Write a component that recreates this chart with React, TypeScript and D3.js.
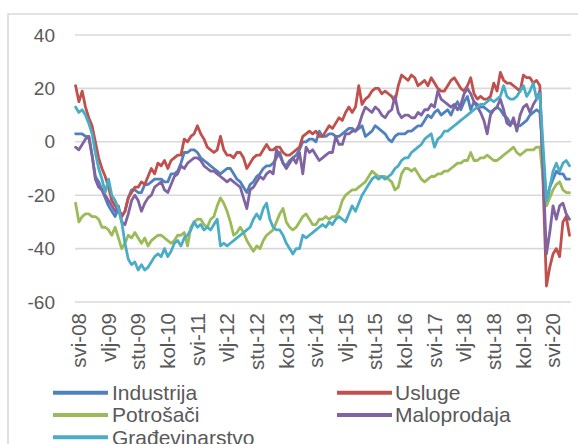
import React from "react";
import * as d3 from "d3";

const W = 578;
const H = 444;

// monthly, May 2008 .. Nov 2020
const startYear = 2008;
const startMonth = 4; // 0-based, May
const monthAbbr = ["sij", "vlj", "ožu", "tra", "svi", "lip", "srp", "kol", "ruj", "lis", "stu", "pro"];

const industrija = [
  3, 3, 3, 2, 2, -5, -13, -15, -18, -21, -24, -26, -28, -25, -28, -26, -21, -18, -18, -19,
  -19, -16, -16, -15, -14, -14, -14, -15, -15, -12, -12, -11, -8, -4, -4, -3, -3, -4, -6, -7,
  -8, -9, -10, -11, -12, -11, -10, -10, -12, -14, -15, -17, -19, -16, -15, -13, -12, -10, -9, -9,
  -8, -6, -4, -8, -9, -7, -6, -5, -3, 0, 0, 1, 1, 0, 4, 2, 2, 3, 3, 2,
  2, 3, 4, 5, 5, 4, 5, 6, 2, 3, 4, 6, 5, 4, 3, 1, 0, 2, 3, 3,
  3, 4, 4, 5, 6, 6, 8, 10, 9, 11, 12, 10, 11, 12, 10, 13, 15, 12, 15, 17,
  12, 15, 14, 13, 13, 12, 11, 12, 13, 12, 10, 9, 7, 7, 6, 6, 7, 8, 10, 11,
  12, 11, -6, -23, -17, -14, -11, -12, -12, -14, -14,
];

const usluge = [
  21, 15, 19, 13, 9, 6, 0, -6, -10, -13, -17, -22, -24, -25, -28, -26, -21, -19, -17, -17,
  -15, -16, -13, -10, -12, -8, -9, -7, -10, -7, -6, -5, -5, 1, 0, 2, 3, 6, 3, 1,
  -2, -3, -4, -3, 2, -3, -5, -5, -6, -4, -4, -6, -10, -8, -6, -5, -5, -3, -1, -3,
  -3, -2, -2, -4, -5, -5, -4, -3, -2, 2, 3, 4, 3, 4, 2, 2, 4, 6, 5, 7,
  9, 8, 11, 13, 11, 13, 21, 14, 16, 17, 19, 20, 20, 18, 19, 18, 17, 15, 21, 25,
  24, 23, 25, 24, 21, 22, 23, 21, 24, 22, 20, 19, 19, 21, 23, 24, 22, 20, 19, 21,
  24, 18, 16, 17, 16, 16, 17, 22, 19, 26, 23, 22, 22, 21, 20, 19, 25, 24, 24, 22,
  23, 21, -16, -54, -47, -42, -40, -43, -30, -28, -35,
];

const potrosaci = [
  -23, -30, -28, -27, -27, -28, -28, -29, -32, -32, -33, -35, -32, -36, -40, -38, -35, -36, -34, -36,
  -38, -36, -39, -37, -36, -35, -35, -36, -37, -38, -37, -35, -35, -34, -39, -32, -30, -29, -29, -31,
  -32, -29, -28, -24, -21, -23, -26, -30, -35, -34, -32, -34, -37, -39, -41, -39, -40, -37, -35, -34,
  -33, -30, -27, -25, -30, -32, -33, -32, -30, -28, -27, -29, -31, -31, -29, -29, -28, -29, -28, -28,
  -26, -22, -20, -19, -18, -18, -17, -16, -15, -13, -11, -12, -13, -13, -13, -14, -15, -18, -17, -12,
  -10, -10, -11, -10, -12, -14, -15, -14, -13, -13, -12, -12, -11, -11, -10, -9, -8, -8, -7, -7,
  -4, -7, -7, -6, -6, -5, -6, -7, -7, -6, -5, -4, -3, -2, -4, -5, -4, -3, -3, -3,
  -2, -2, -14, -24, -21, -18, -16, -15, -18, -19, -19,
];

const maloprodaja = [
  -2, -3, -1, 1, 2, -5, -14, -17, -18, -20, -22, -24, -26, -24, -30, -31, -27, -22, -20, -22,
  -26, -23, -21, -20, -17, -16, -15, -18, -19, -16, -13, -12, -9, -10, -8, -7, -6, -6, -7, -9,
  -10, -11, -11, -12, -13, -14, -15, -14, -15, -16, -17, -21, -25, -18, -17, -15, -13, -14, -12, -11,
  -12, -3, -5, -8, -10, -8, -6, -8, -4, -12, -2, -4, -3, -5, -7, -6, -5, -4, -4, 2,
  -1, -1, 3, 3, 4, 4, 6, 10, 13, 12, 11, 13, 12, 10, 9, 11, 12, 17, 11, 9,
  10, 10, 9, 9, 11, 10, 12, 12, 14, 13, 19, 16, 15, 14, 13, 14, 12, 14, 18, 20,
  18, 15, 13, 11, 8, 3, 10, 12, 13, 16, 12, 7, 6, 9, 4, 10, 13, 14, 11, 14,
  16, 19, -12, -42, -34, -24, -29, -24, -23, -27, -29,
];

const gradevinarstvo = [
  13, 11, 12, 10, 7, 3, -4, -10, -14, -19, -14, -20, -22, -25, -30, -38, -44, -46, -45, -48,
  -46, -48, -47, -45, -43, -42, -43, -40, -43, -41, -38, -37, -39, -36, -35, -33, -30, -32, -31, -33,
  -32, -33, -31, -29, -39, -38, -39, -38, -37, -36, -35, -34, -33, -32, -29, -27, -29, -25, -23, -29,
  -32, -33, -33, -35, -38, -40, -42, -40, -40, -35, -36, -35, -34, -33, -32, -31, -32, -30, -31, -29,
  -28, -29, -30, -27, -24, -26, -23, -20, -18, -16, -14, -13, -14, -13, -14, -13, -12, -10, -9, -7,
  -6, -6, -4, -3, -2, -1, 1, 2, 3, -2, 1, 2, 4, 4, 5, 6, 7, 8, 9, 10,
  11, 12, 13, 14, 14, 15, 16, 15, 16, 17, 21, 17, 16, 16, 17, 19, 21, 17, 19, 22,
  16, 18, -2, -22, -17, -11, -8, -11, -8, -7, -9,
];

const seriesNames = ["Industrija", "Usluge", "Potrošači", "Maloprodaja", "Građevinarstvo"];
const seriesColors = ["#4f81bd", "#c0504d", "#9bbb59", "#8064a2", "#4bacc6"];
const seriesData = [industrija, usluge, potrosaci, maloprodaja, gradevinarstvo];

const yTicks = [40, 20, 0, -20, -40, -60];
const labelStep = 9;

function monthLabel(i: number): string {
  const m = (startMonth + i) % 12;
  const y = startYear + Math.floor((startMonth + i) / 12);
  return `${monthAbbr[m]}-${String(y % 100).padStart(2, "0")}`;
}

export default function App() {
  const n = industrija.length;
  const x = d3.scaleLinear().domain([0, n - 1]).range([75.6, 569.5]);
  const y = d3.scaleLinear().domain([-60, 40]).range([302, 35]);
  const line = d3
    .line<number>()
    .x((_, i) => x(i))
    .y((d) => y(d));

  const font = "'Liberation Sans', Arial, sans-serif";
  const labelIdx = d3.range(0, n, labelStep);

  const legendPos = [
    { lx: 53, tx: 112, cy: 392.7 },
    { lx: 337, tx: 395, cy: 392.7 },
    { lx: 53, tx: 112, cy: 415 },
    { lx: 337, tx: 395, cy: 415 },
    { lx: 53, tx: 112, cy: 437.3 },
  ];

  return (
    <svg
      width={W}
      height={H}
      style={{ position: "absolute", left: 0, top: 0, background: "#fff" }}
      fontFamily={font}
    >
      <rect x={0} y={0} width={W} height={H} fill="#fff" />
      <rect x={8} y={14} width={600} height={460} fill="#fff" stroke="#d9d9d9" strokeWidth={1.5} />
      {yTicks.map((t) => (
        <g key={t}>
          <line x1={75} x2={571} y1={y(t)} y2={y(t)} stroke="#d9d9d9" strokeWidth={1.6} />
          <text
            x={55}
            y={y(t)}
            textAnchor="end"
            dominantBaseline="central"
            fontSize={19}
            fill="#595959"
          >
            {t}
          </text>
        </g>
      ))}
      {labelIdx.map((i) => (
        <text
          key={i}
          transform={`translate(${x(i) + 3},313) rotate(-90)`}
          textAnchor="end"
          dominantBaseline="central"
          fontSize={20.5}
          fill="#595959"
        >
          {monthLabel(i)}
        </text>
      ))}
      {seriesData.map((d, k) => (
        <path
          key={seriesNames[k]}
          d={line(d) || ""}
          fill="none"
          stroke={seriesColors[k]}
          strokeWidth={2.8}
          strokeLinejoin="round"
          strokeLinecap="round"
        />
      ))}
      {seriesNames.map((name, k) => {
        const p = legendPos[k];
        return (
          <g key={name}>
            <line
              x1={p.lx}
              x2={p.lx + 55}
              y1={p.cy}
              y2={p.cy}
              stroke={seriesColors[k]}
              strokeWidth={4}
            />
            <text x={p.tx} y={p.cy + 7.3} fontSize={21} fill="#595959">
              {name}
            </text>
          </g>
        );
      })}
    </svg>
  );
}
